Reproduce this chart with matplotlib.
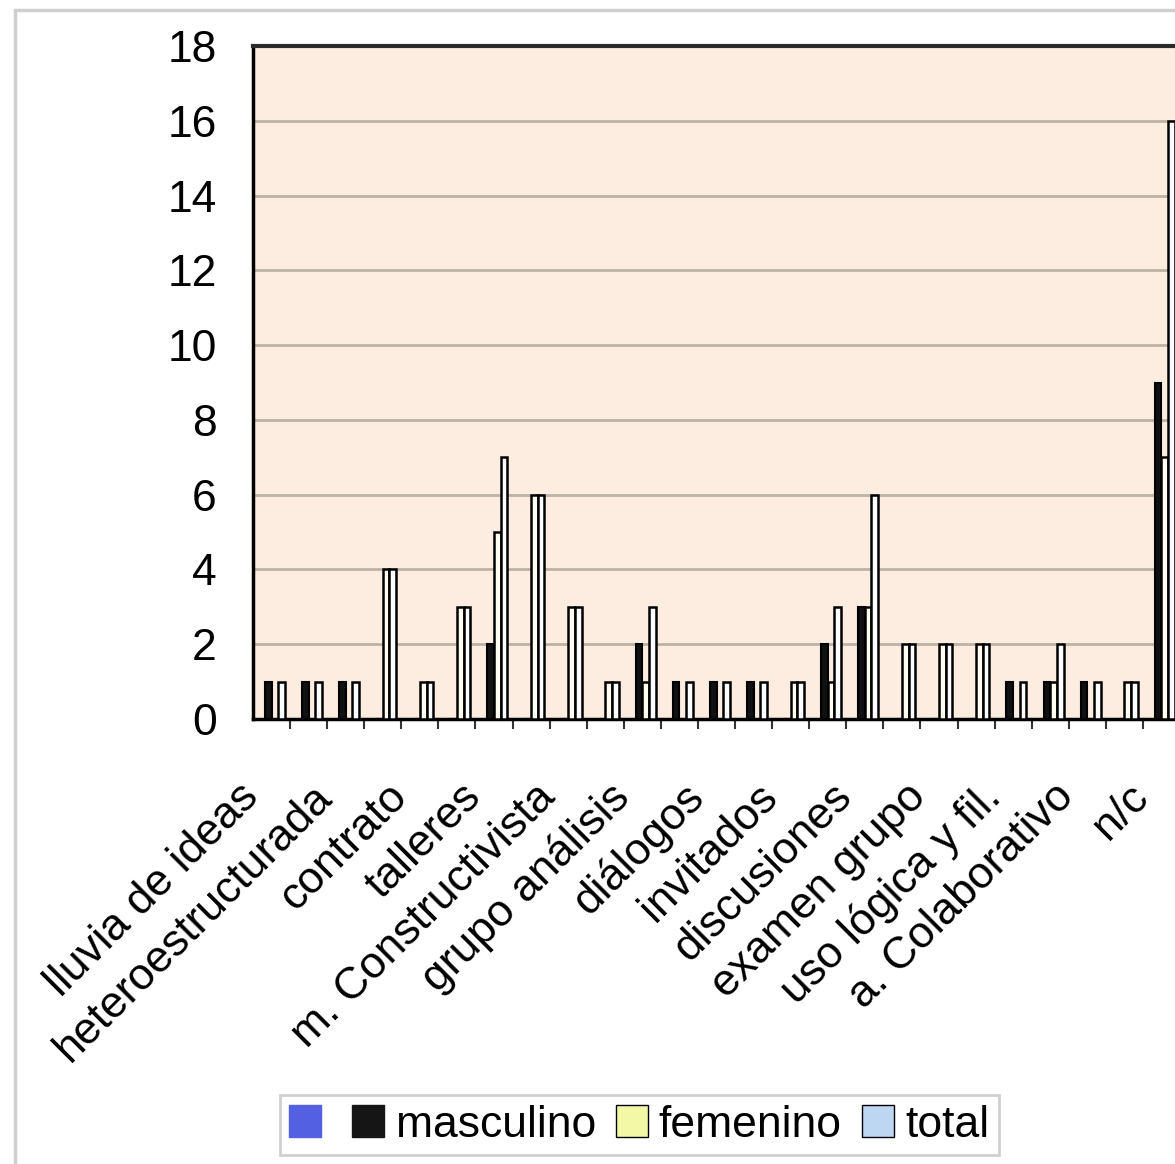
import matplotlib.pyplot as plt
from matplotlib.patches import Patch, Rectangle
from matplotlib.transforms import ScaledTranslation
import numpy as np

# categories shown on the axis (every other category carries a label)
shown_labels = ['lluvia de ideas', 'heteroestructurada', 'contrato', 'talleres',
                'm. Constructivista', 'grupo análisis', 'diálogos', 'invitados',
                'discusiones', 'examen grupo', 'uso lógica y fil.', 'a. Colaborativo', 'n/c']

masculino = [1, 1, 1, 0, 0, 0, 2, 0, 0, 0, 2, 1, 1, 1, 0, 2, 3, 0, 0, 0, 1, 1, 1, 0, 9]
femenino = [0, 0, 0, 4, 1, 3, 5, 6, 3, 1, 1, 0, 0, 0, 1, 1, 3, 2, 2, 2, 0, 1, 0, 1, 7]
total = [1, 1, 1, 4, 1, 3, 7, 6, 3, 1, 3, 1, 1, 1, 1, 3, 6, 2, 2, 2, 1, 2, 1, 1, 16]

plt.rcParams['font.family'] = ['Liberation Sans', 'DejaVu Sans']

fig = plt.figure(figsize=(11.75, 11.64), dpi=100)
fig.patch.set_facecolor('white')

# faint chart-area border
fig.patches.append(Rectangle((15 / 1175, -0.05), 1.1, 1.05 - 10 / 1164, transform=fig.transFigure,
                             fill=False, edgecolor='#cfcfcf', linewidth=2.5))

ax = fig.add_axes([253 / 1175, 1 - 719 / 1164, 927 / 1175, 673 / 1164])
ax.set_facecolor('#fcede0')

x = np.arange(len(total))
w = 0.18
# four slots per category; the first (unnamed) series has no bars
ax.bar(x - 0.5 * w, masculino, w, color='#111111', edgecolor='black', linewidth=1.5, zorder=3)
ax.bar(x + 0.5 * w, femenino, w, color='#fffdf2', edgecolor='black', linewidth=1.8, zorder=3)
ax.bar(x + 1.5 * w, total, w, color='#fbfcff', edgecolor='black', linewidth=1.8, zorder=3)

ax.set_xlim(-0.5, len(total) - 0.5)
ax.set_ylim(0, 18)
ax.set_yticks(np.arange(0, 19, 2))
ax.yaxis.grid(True, color='#bdb2a6', linewidth=2)
ax.set_axisbelow(True)
ax.tick_params(axis='y', length=0, pad=26, labelsize=32)

ax.set_xticks(x[::2])
ax.set_xticklabels(shown_labels, rotation=45, ha='right', va='top',
                   rotation_mode='anchor', fontsize=32)
ax.set_xticks(np.arange(0.5, len(total) - 1, 1), minor=True)
ax.tick_params(axis='x', which='major', length=0, pad=41)
ax.tick_params(axis='x', which='minor', length=7, width=1.5, color='#333333')
for lab in ax.get_xticklabels():
    lab.set_transform(lab.get_transform() + ScaledTranslation(-34 / 100, 0, fig.dpi_scale_trans))

for side in ['left', 'bottom']:
    ax.spines[side].set_linewidth(2.5)
    ax.spines[side].set_color('black')
ax.spines['top'].set_linewidth(3)
ax.spines['top'].set_color('#2b2b2b')
ax.spines['right'].set_visible(False)

handles = [Patch(facecolor='#5360e2', edgecolor='#5360e2'),
           Patch(facecolor='#151515', edgecolor='#151515'),
           Patch(facecolor='#f2f8a6', edgecolor='black'),
           Patch(facecolor='#bdd6f2', edgecolor='black')]
leg = fig.legend(handles, ['', 'masculino', 'femenino', 'total'], ncol=4, loc='center',
                 bbox_to_anchor=(0.544, 0.0335), fontsize=32, frameon=True, fancybox=False,
                 edgecolor='#c4c4c4', handlelength=0.72, handleheight=0.72,
                 handletextpad=0.25, columnspacing=0.45, borderpad=0.22)
leg.get_frame().set_linewidth(2)

fig.savefig('out.png', dpi=100)
